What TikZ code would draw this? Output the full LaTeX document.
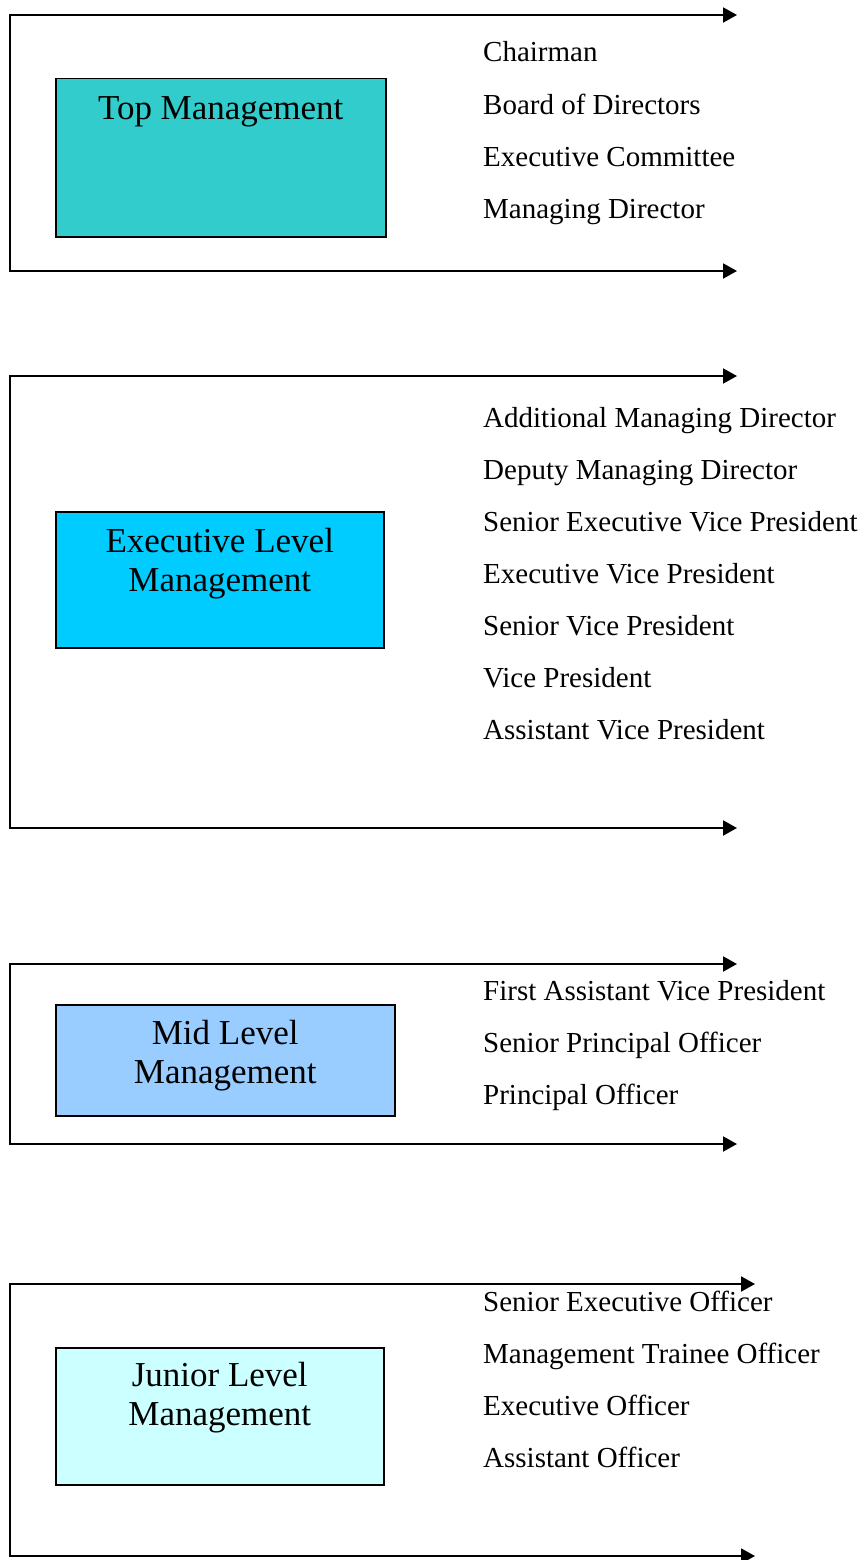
\documentclass[tikz,border=0pt]{standalone}
\usepackage{fontspec}
\setmainfont{Liberation Serif}
\usetikzlibrary{arrows.meta,calc}

\definecolor{topfill}{HTML}{33CCCC}
\definecolor{execfill}{HTML}{00CCFF}
\definecolor{midfill}{HTML}{99CCFF}
\definecolor{junfill}{HTML}{CCFFFF}

\tikzset{
  bracket/.style={line width=2pt, {Triangle[length=14pt,width=15pt]}-{Triangle[length=14pt,width=15pt]}},
  levelbox/.style={draw=black, line width=1.5pt, rectangle, inner sep=0pt, anchor=north west},
  % base anchor of a two-line label sits on its last line
  boxlabel/.style={anchor=base, align=center, inner sep=0pt,
    font=\fontsize{35}{39}\selectfont},
  item/.style={anchor=base west, inner sep=0pt, font=\fontsize{29}{34}\selectfont},
}

\begin{document}
\begin{tikzpicture}[x=1pt, y=-1pt]
\useasboundingbox (0,0) rectangle (867,1560);

% ---------- Top management ----------
\coordinate (t1a) at (737,15);
\coordinate (t1b) at (10,15);
\coordinate (t1c) at (10,271);
\coordinate (t1d) at (737,271);
\draw[bracket] (t1a) -- (t1b) -- (t1c) -- (t1d);
\node[levelbox, fill=topfill, minimum width=330pt, minimum height=158pt] (box1) at (55,78) {};
\node[boxlabel] (lab1) at ($(box1.north)+(0,42)$) {Top Management};
\foreach \t [count=\i] in {Chairman, Board of Directors, Executive Committee, Managing Director}
  \node[item] (r1-\i) at (483, {62+52*(\i-1)}) {\t};

% ---------- Executive level ----------
\coordinate (t2a) at (737,376);
\coordinate (t2b) at (10,376);
\coordinate (t2c) at (10,828);
\coordinate (t2d) at (737,828);
\draw[bracket] (t2a) -- (t2b) -- (t2c) -- (t2d);
\node[levelbox, fill=execfill, minimum width=328pt, minimum height=136pt] (box2) at (55,511) {};
\node[boxlabel] (lab2) at ($(box2.north)+(0,80)$) {Executive Level\\Management};
\foreach \t [count=\i] in {Additional Managing Director, Deputy Managing Director,
    Senior Executive Vice President, Executive Vice President, Senior Vice President,
    Vice President, Assistant Vice President}
  \node[item] (r2-\i) at (483, {427+52*(\i-1)}) {\t};

% ---------- Mid level ----------
\coordinate (t3a) at (737,964);
\coordinate (t3b) at (10,964);
\coordinate (t3c) at (10,1144);
\coordinate (t3d) at (737,1144);
\draw[bracket] (t3a) -- (t3b) -- (t3c) -- (t3d);
\node[levelbox, fill=midfill, minimum width=339pt, minimum height=111pt] (box3) at (55,1004) {};
\node[boxlabel] (lab3) at ($(box3.north)+(0,79)$) {Mid Level\\Management};
\foreach \t [count=\i] in {First Assistant Vice President, Senior Principal Officer, Principal Officer}
  \node[item] (r3-\i) at (483, {1000+52*(\i-1)}) {\t};

% ---------- Junior level ----------
\coordinate (t4a) at (755,1284);
\coordinate (t4b) at (10,1284);
\coordinate (t4c) at (10,1556);
\coordinate (t4d) at (755,1556);
\draw[bracket] (t4a) -- (t4b) -- (t4c) -- (t4d);
\node[levelbox, fill=junfill, minimum width=328pt, minimum height=137pt] (box4) at (55,1347) {};
\node[boxlabel] (lab4) at ($(box4.north)+(0,78)$) {Junior Level\\Management};
\foreach \t [count=\i] in {Senior Executive Officer, Management Trainee Officer, Executive Officer, Assistant Officer}
  \node[item] (r4-\i) at (483, {1311+52*(\i-1)}) {\t};
\end{tikzpicture}
\end{document}
